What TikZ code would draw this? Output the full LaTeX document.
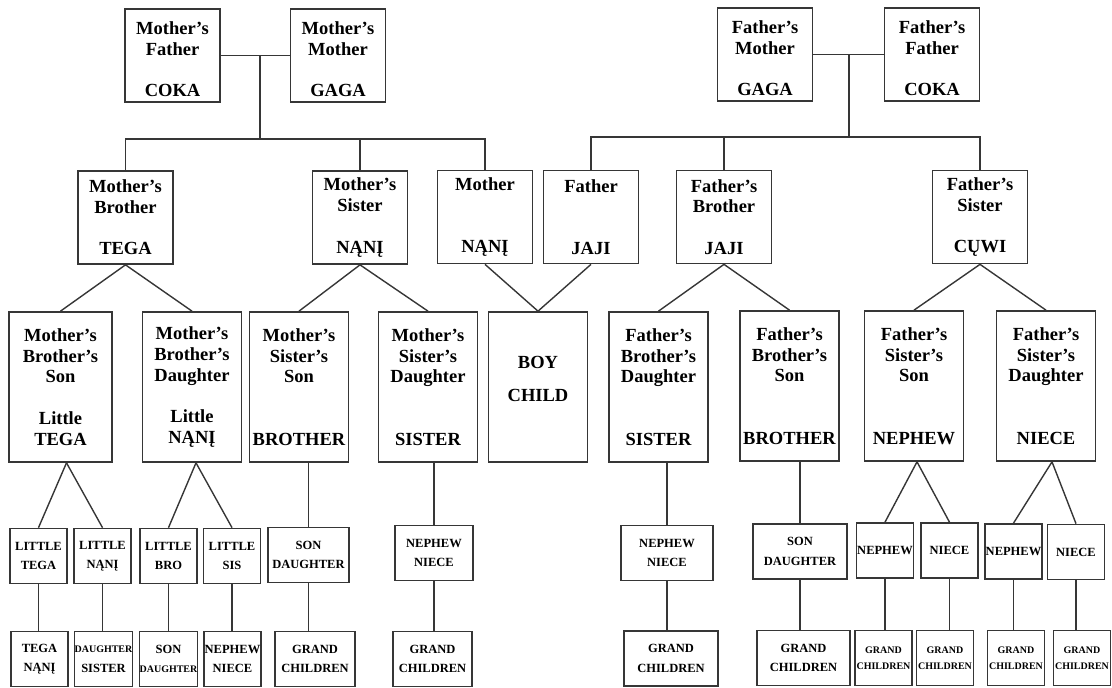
\documentclass[tikz,border=0pt]{standalone}
\usepackage{fontspec}
\setmainfont{Liberation Serif}
\definecolor{inkgray}{HTML}{363636}
\newcommand{\kinbig}{\fontsize{18.5}{20.7}\selectfont\bfseries}
\newcommand{\kinsmall}{\fontsize{12.5}{19.5}\selectfont\bfseries}
\newcommand{\kintiny}{\fontsize{10}{16}\selectfont\bfseries}

\begin{document}
\begin{tikzpicture}[x=1pt,y=-1pt,
    kin/.style={draw=inkgray, line width=1.7pt, fill=white, inner sep=0pt, align=center},
    elderbox/.style={kin, font=\kinbig, minimum width=95pt, minimum height=93pt},
    cousinbox/.style={kin, font=\kinbig, minimum width=99pt, minimum height=150pt},
    kidbox/.style={kin, font=\kinsmall, minimum width=57pt, minimum height=55pt},
    link/.style={draw=inkgray, line width=1.4pt}]

        \useasboundingbox (0,0) rectangle (1112,688);

        % Draw the grandparents
        \node[elderbox] (mfa) at (172.5,55.5) {\mbox{}\\Mother’s\\Father\\[20.7pt]COKA};
        \node[elderbox] (mmo) at (338,55.5) {\mbox{}\\Mother’s\\Mother\\[20.7pt]GAGA};
        \node[elderbox] (fmo) at (765,54.5) {\mbox{}\\Father’s\\Mother\\[20.7pt]GAGA};
        \node[elderbox] (ffa) at (932,54.5) {\mbox{}\\Father’s\\Father\\[20.7pt]COKA};

        % Draw the parents, uncles and aunts
        \node[elderbox] (mbr) at (125.5,217.5) {Mother’s\\Brother\\[20.7pt]TEGA};
        \node[elderbox] (msi) at (360,217.5) {Mother’s\\Sister\\[20.7pt]NĄNĮ};
        \node[elderbox] (mot) at (485,217) {Mother\\[41.4pt]NĄNĮ};
        \node[elderbox] (fat) at (591,217) {Father\\[41.4pt]JAJI};
        \node[elderbox] (fbr) at (724,217) {Father’s\\Brother\\[20.7pt]JAJI};
        \node[elderbox] (fsi) at (980,217) {Father’s\\Sister\\[20.7pt]CŲWI};

        % Draw the cousins and the child
        \node[cousinbox, minimum width=103pt] (mbs) at (60.5,387) {Mother’s\\Brother’s\\Son\\[20.7pt]Little\\TEGA};
        \node[cousinbox] (mbd) at (192,387) {Mother’s\\Brother’s\\Daughter\\[20.7pt]Little\\NĄNĮ};
        \node[cousinbox] (mss) at (299,387) {Mother’s\\Sister’s\\Son\\[41.4pt]BROTHER};
        \node[cousinbox] (msd) at (428,387) {Mother’s\\Sister’s\\Daughter\\[41.4pt]SISTER};
        \node[cousinbox] (boy) at (538,387) {BOY\\[12.3pt]CHILD\\[-4pt]\mbox{}};
        \node[cousinbox] (fbd) at (658.5,387) {Father’s\\Brother’s\\Daughter\\[41.4pt]SISTER};
        \node[cousinbox] (fbs) at (789.5,386) {Father’s\\Brother’s\\Son\\[41.4pt]BROTHER};
        \node[cousinbox] (fss) at (914,386) {Father’s\\Sister’s\\Son\\[41.4pt]NEPHEW};
        \node[cousinbox] (fsd) at (1046,386) {Father’s\\Sister’s\\Daughter\\[41.4pt]NIECE};

        % Draw the next generation
        \node[kidbox] (lte) at (38.5,556) {LITTLE\\TEGA};
        \node[kidbox] (lna) at (102.5,556) {LITTLE\\NĄNĮ};
        \node[kidbox] (lbr) at (168.5,556) {LITTLE\\BRO};
        \node[kidbox] (lsi) at (232,556) {LITTLE\\SIS};
        \node[kidbox, minimum width=81pt] (mssk) at (308.5,555) {SON\\DAUGHTER};
        \node[kidbox, minimum width=78pt] (msdk) at (434,553) {NEPHEW\\NIECE};
        \node[kidbox, minimum width=92pt] (fbdk) at (667,553) {NEPHEW\\NIECE};
        \node[kidbox, minimum width=94pt] (fbsk) at (800,551.5) {SON\\DAUGHTER};
        \node[kidbox] (fssne) at (885,550.5) {NEPHEW};
        \node[kidbox] (fssni) at (949.5,550.5) {NIECE};
        \node[kidbox] (fsdne) at (1013.5,551.5) {NEPHEW};
        \node[kidbox] (fsdni) at (1076,552) {NIECE};

        % Draw the grandchildren
        \node[kidbox] (tena) at (39.5,659) {TEGA\\NĄNĮ};
        \node[kidbox] (dasi) at (103.5,659) {{\kintiny DAUGHTER}\\SISTER};
        \node[kidbox] (soda) at (168.5,659) {SON\\{\kintiny DAUGHTER}};
        \node[kidbox] (neni) at (232.5,659) {NEPHEW\\NIECE};
        \node[kidbox, minimum width=80pt] (mssg) at (315,659) {GRAND\\CHILDREN};
        \node[kidbox, minimum width=79pt] (msdg) at (432.5,659) {GRAND\\CHILDREN};
        \node[kidbox, minimum width=94pt] (fbdg) at (671,658.5) {GRAND\\CHILDREN};
        \node[kidbox, minimum width=93pt] (fbsg) at (803.5,658) {GRAND\\CHILDREN};
        \node[kidbox, font=\kintiny] (gc1) at (883.5,658) {GRAND\\CHILDREN};
        \node[kidbox, font=\kintiny] (gc2) at (945,658) {GRAND\\CHILDREN};
        \node[kidbox, font=\kintiny] (gc3) at (1016,658) {GRAND\\CHILDREN};
        \node[kidbox, font=\kintiny] (gc4) at (1082,658) {GRAND\\CHILDREN};

        % Join the grandparents to their children
        \coordinate (mjoin) at (260,55.5);
        \coordinate (mbus) at (260,139);
        \draw[link] (mfa) -- (mmo);
        \draw[link] (mjoin) -- (mbus);
        \draw[link] (mbr.north) |- (mbus) -| (mot.north);
        \draw[link] (msi.north) -- (msi.north |- mbus);

        \coordinate (fjoin) at (849,54.5);
        \coordinate (fbus) at (849,137);
        \draw[link] (fmo) -- (ffa);
        \draw[link] (fjoin) -- (fbus);
        \draw[link] (fat.north) |- (fbus) -| (fsi.north);
        \draw[link] (fbr.north) -- (fbr.north |- fbus);

        % Join the parents to the cousins
        \draw[link] (mbs.north) -- (mbr.south) -- (mbd.north);
        \draw[link] (mss.north) -- (msi.south) -- (msd.north);
        \draw[link] (mot.south) -- (boy.north) -- (fat.south);
        \draw[link] (fbd.north) -- (fbr.south) -- (fbs.north);
        \draw[link] (fss.north) -- (fsi.south) -- (fsd.north);

        % Join the cousins to their children
        \draw[link] ([xshift=6pt]mbs.south) -- (lte.north);
        \draw[link] ([xshift=6pt]mbs.south) -- (lna.north);
        \draw[link] ([xshift=4pt]mbd.south) -- (lbr.north);
        \draw[link] ([xshift=4pt]mbd.south) -- (lsi.north);
        \draw[link] (mssk.north |- mss.south) -- (mssk.north);
        \draw[link] (msdk.north |- msd.south) -- (msdk.north);
        \draw[link] (fbdk.north |- fbd.south) -- (fbdk.north);
        \draw[link] (fbsk.north |- fbs.south) -- (fbsk.north);
        \draw[link] (fssne.north) -- ([xshift=3pt]fss.south) -- (fssni.north);
        \draw[link] (fsdne.north) -- ([xshift=6pt]fsd.south) -- (fsdni.north);

        % Join the children to the grandchildren
        \draw[link] (lte.south) -- (lte.south |- tena.north);
        \draw[link] (lna.south) -- (lna.south |- dasi.north);
        \draw[link] (lbr.south) -- (lbr.south |- soda.north);
        \draw[link] (lsi.south) -- (lsi.south |- neni.north);
        \draw[link] (mssk.south) -- (mssk.south |- mssg.north);
        \draw[link] (msdk.south) -- (msdk.south |- msdg.north);
        \draw[link] (fbdk.south) -- (fbdk.south |- fbdg.north);
        \draw[link] (fbsk.south) -- (fbsk.south |- fbsg.north);
        \draw[link] (fssne.south) -- (fssne.south |- gc1.north);
        \draw[link] (fssni.south) -- (fssni.south |- gc2.north);
        \draw[link] (fsdne.south) -- (fsdne.south |- gc3.north);
        \draw[link] (fsdni.south) -- (fsdni.south |- gc4.north);

    \end{tikzpicture}
\end{document}
